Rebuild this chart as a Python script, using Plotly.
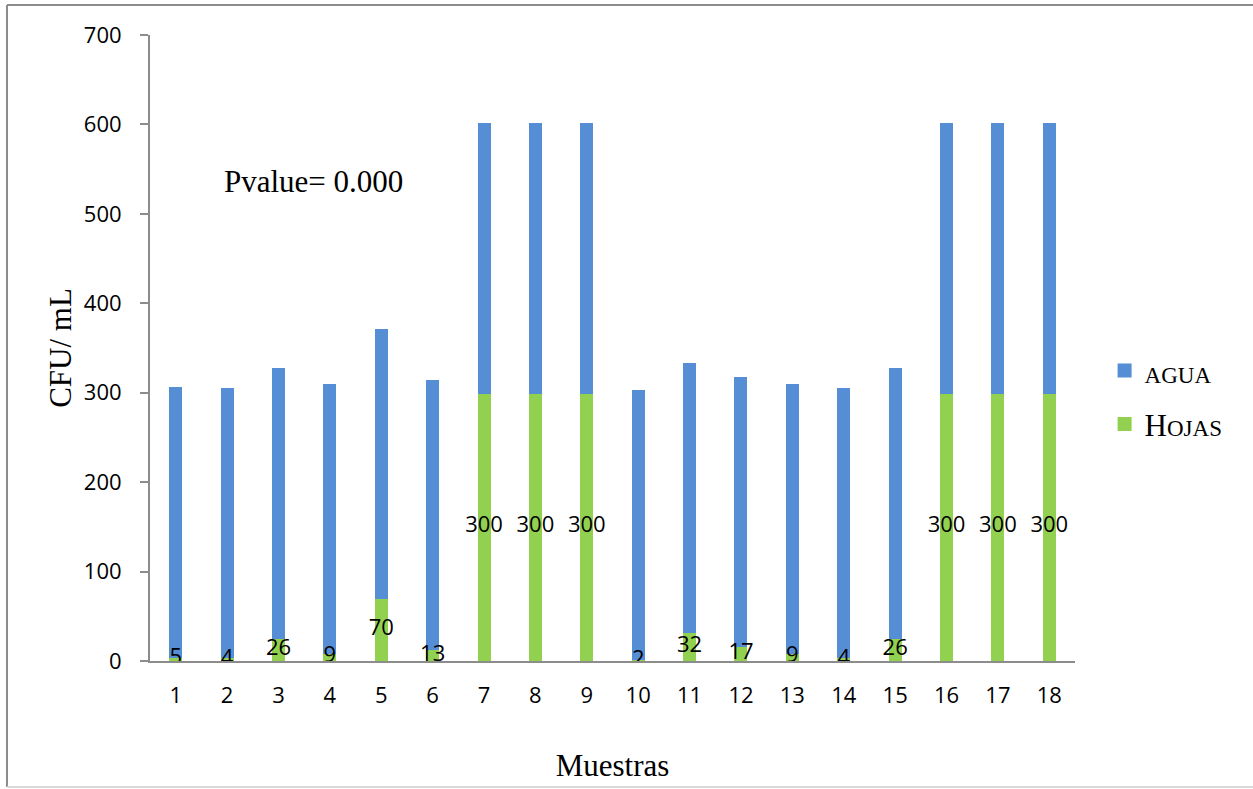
import plotly.graph_objects as go

muestras = [str(i) for i in range(1, 19)]
hojas = [5, 4, 26, 9, 70, 13, 300, 300, 300, 2, 32, 17, 9, 4, 26, 300, 300, 300]
agua = [300] * 18
y_ticks = [0, 100, 200, 300, 400, 500, 600, 700]

BLUE = "#558ED5"
GREEN = "#92D050"
AXIS = "#8C8C8C"
SANS = "Open Sans"
SERIF = "Liberation Serif"

fig = go.Figure()
fig.add_trace(go.Bar(x=muestras, y=hojas, name="H<span style='font-size:23px'>OJAS</span>",
                     legendgroup="h", legendrank=2,
                     marker=dict(color=GREEN, line=dict(width=2, color=GREEN)), hoverinfo="skip"))
fig.add_trace(go.Bar(x=muestras, y=agua, name="<span style='font-size:23px'>AGUA</span>",
                     legendgroup="a", legendrank=1,
                     marker=dict(color=BLUE, line=dict(width=2, color=BLUE)), hoverinfo="skip"))
fig.add_trace(go.Scatter(x=muestras, y=[h / 2 for h in hojas], mode="text",
                         text=[str(h) for h in hojas], showlegend=False,
                         textfont=dict(family=SANS, size=22, color="black"),
                         textposition="middle center", hoverinfo="skip"))

fig.update_layout(
    barmode="stack",
    bargap=0.786,
    width=1253, height=789,
    margin=dict(l=150, r=178, t=35, b=128),
    plot_bgcolor="white", paper_bgcolor="white",
    showlegend=True,
    legend=dict(x=1.032, y=0.421, xanchor="left", yanchor="middle",
                font=dict(family=SERIF, size=31, color="black"),
                itemsizing="constant", tracegroupgap=10),
    xaxis=dict(type="category", range=[-0.5, 17.5], showline=True, linecolor=AXIS, linewidth=2,
               ticks="", tickfont=dict(family=SANS, size=22, color="black"),
               ticklabelstandoff=14,
               title=dict(text="Muestras", font=dict(family=SERIF, size=31, color="black"), standoff=46),
               showgrid=False),
    yaxis=dict(range=[0, 700], tickvals=y_ticks, showline=True, linecolor=AXIS, linewidth=2,
               ticks="outside", ticklen=8, tickcolor=AXIS, tickwidth=2,
               tickfont=dict(family=SANS, size=22, color="black"),
               ticklabelstandoff=14,
               title=dict(text="CFU/ mL", font=dict(family=SERIF, size=31, color="black"), standoff=3),
               showgrid=False, zeroline=False),
    annotations=[dict(text="Pvalue= 0.000", x=0.078, y=0.766, xref="paper", yref="paper",
                      xanchor="left", yanchor="middle", showarrow=False,
                      font=dict(family=SERIF, size=31, color="black"))],
    shapes=[dict(type="line", xref="paper", yref="paper", x0=-0.1546, x1=-0.1546, y0=-0.2013, y1=1.0479,
                 line=dict(color="#8C8C8C", width=2)),
            dict(type="line", xref="paper", yref="paper", x0=-0.1546, x1=1.25, y0=1.0479, y1=1.0479,
                 line=dict(color="#8C8C8C", width=2)),
            dict(type="line", xref="paper", yref="paper", x0=-0.1546, x1=1.25, y0=-0.2013, y1=-0.2013,
                 line=dict(color="#D9D9D9", width=2)),
            dict(type="line", xref="paper", yref="paper", x0=-0.01, x1=0, y0=0, y1=0,
                 line=dict(color=AXIS, width=2))],
)

fig.write_html("out.html")
